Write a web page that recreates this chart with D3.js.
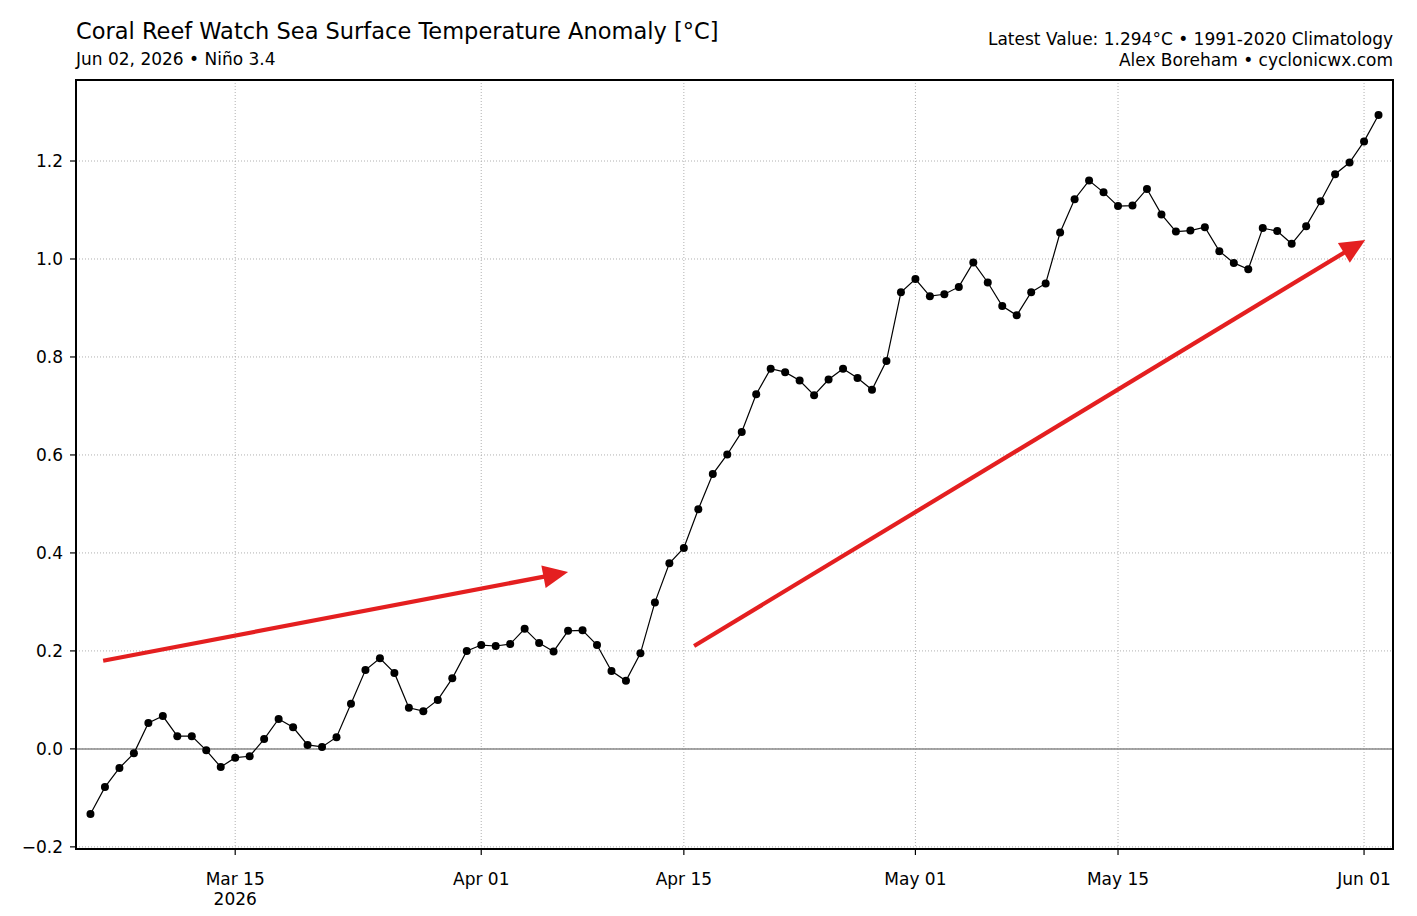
<!DOCTYPE html>
<html>
<head>
<meta charset="utf-8">
<script src="https://cdn.jsdelivr.net/npm/d3@7"></script>
<style>
body { margin: 0; background: #fff; }
svg text { font-family: "DejaVu Sans", sans-serif; fill: #000; }
</style>
</head>
<body>
<svg width="1417" height="916"></svg>
<script>
// daily values, first day below
var firstDay = "2026-03-05";
var anomaly = [
  -0.133, -0.078, -0.039, -0.009, 0.053, 0.067, 0.026, 0.026, -0.003, -0.037,
  -0.018, -0.015, 0.020, 0.061, 0.044, 0.008, 0.004, 0.024, 0.092, 0.161,
  0.185, 0.155, 0.084, 0.077, 0.100, 0.144, 0.200, 0.212, 0.210, 0.214,
  0.245, 0.216, 0.199, 0.241, 0.242, 0.212, 0.159, 0.139, 0.195, 0.299,
  0.379, 0.410, 0.489, 0.561, 0.601, 0.647, 0.724, 0.776, 0.769, 0.752,
  0.722, 0.754, 0.776, 0.757, 0.733, 0.792, 0.932, 0.959, 0.924, 0.928,
  0.943, 0.993, 0.952, 0.904, 0.885, 0.932, 0.950, 1.054, 1.122, 1.160,
  1.136, 1.108, 1.109, 1.143, 1.091, 1.056, 1.058, 1.065, 1.016, 0.992,
  0.979, 1.063, 1.057, 1.031, 1.067, 1.118, 1.173, 1.197, 1.240, 1.294
];

var xTickDates = ["2026-03-15", "2026-04-01", "2026-04-15", "2026-05-01", "2026-05-15", "2026-06-01"];
var xTickLabels = [["Mar 15", "2026"], ["Apr 01"], ["Apr 15"], ["May 01"], ["May 15"], ["Jun 01"]];
var yTicks = [-0.2, 0.0, 0.2, 0.4, 0.6, 0.8, 1.0, 1.2];
var yTickLabels = ["\u22120.2", "0.0", "0.2", "0.4", "0.6", "0.8", "1.0", "1.2"];

// trend arrows drawn on the chart: [start date, start value, tip date, tip value]
var arrowStart = [["2026-03-05T21:00Z", 0.180], ["2026-04-15T17:00Z", 0.210]];
var arrowTip = [["2026-04-07T00:00Z", 0.361], ["2026-06-01T02:00Z", 1.039]];

var svg = d3.select("svg");
var margin = { top: 80, right: 24, bottom: 67, left: 76 },
    width = +svg.attr("width") - margin.left - margin.right,
    height = +svg.attr("height") - margin.top - margin.bottom;

var parse = d3.utcParse("%Y-%m-%d");
var start = parse(firstDay);
var data = anomaly.map(function (v, i) {
    return { date: d3.utcDay.offset(start, i), value: v };
});

var x = d3.scaleUtc()
    .domain([d3.utcDay.offset(start, -1), d3.utcDay.offset(start, anomaly.length)])
    .range([0, width]);

var lo = d3.min(anomaly), hi = d3.max(anomaly), pad = (hi - lo) * 0.05;
var y = d3.scaleLinear().domain([lo - pad, hi + pad]).range([height, 0]);

var g = svg.append("g")
    .attr("transform", "translate(" + margin.left + "," + margin.top + ")");

// grid
g.selectAll(".ygrid").data(yTicks).enter().append("line")
    .attr("x1", 0).attr("x2", width)
    .attr("y1", function (d) { return y(d); }).attr("y2", function (d) { return y(d); })
    .attr("stroke", "#b0b0b0").attr("stroke-width", 1).attr("stroke-dasharray", "1,2");
g.selectAll(".xgrid").data(xTickDates).enter().append("line")
    .attr("x1", function (d) { return x(parse(d)); }).attr("x2", function (d) { return x(parse(d)); })
    .attr("y1", 0).attr("y2", height)
    .attr("stroke", "#b0b0b0").attr("stroke-width", 1).attr("stroke-dasharray", "1,2");

// zero line
g.append("line")
    .attr("x1", 0).attr("x2", width).attr("y1", y(0)).attr("y2", y(0))
    .attr("stroke", "#888").attr("stroke-width", 1.5);

// series
var line = d3.line()
    .x(function (d) { return x(d.date); })
    .y(function (d) { return y(d.value); });
g.append("path").datum(data)
    .attr("fill", "none").attr("stroke", "#000").attr("stroke-width", 1.2)
    .attr("d", line);
g.selectAll(".dot").data(data).enter().append("circle")
    .attr("cx", function (d) { return x(d.date); })
    .attr("cy", function (d) { return y(d.value); })
    .attr("r", 4).attr("fill", "#000");

// arrows
var red = "#e41f20";
arrowStart.forEach(function (s, i) {
    var t = arrowTip[i];
    var x0 = x(new Date(s[0])), y0 = y(s[1]);
    var x1 = x(new Date(t[0])), y1 = y(t[1]);
    var dx = x1 - x0, dy = y1 - y0, len = Math.sqrt(dx * dx + dy * dy);
    var ux = dx / len, uy = dy / len;
    var headLen = 25, headHalf = 11.5;
    var bx = x1 - ux * headLen, by = y1 - uy * headLen;
    g.append("line")
        .attr("x1", x0).attr("y1", y0)
        .attr("x2", bx + ux * 2).attr("y2", by + uy * 2)
        .attr("stroke", red).attr("stroke-width", 4.2);
    g.append("path")
        .attr("d", "M" + x1 + "," + y1 +
            "L" + (bx - uy * headHalf) + "," + (by + ux * headHalf) +
            "L" + (bx + uy * headHalf) + "," + (by - ux * headHalf) + "Z")
        .attr("fill", red);
});

// axes ticks and labels
var yt = g.selectAll(".ytick").data(yTicks).enter().append("g")
    .attr("transform", function (d) { return "translate(0," + y(d) + ")"; });
yt.append("line").attr("x1", -6).attr("x2", 0).attr("stroke", "#000").attr("stroke-width", 1.2);
yt.append("text")
    .attr("x", -13).attr("dy", "0.35em").attr("text-anchor", "end")
    .style("font-size", "17px")
    .text(function (d, i) { return yTickLabels[i]; });

var xt = g.selectAll(".xtick").data(xTickDates).enter().append("g")
    .attr("transform", function (d) { return "translate(" + x(parse(d)) + "," + height + ")"; });
xt.append("line").attr("y1", 0).attr("y2", 6).attr("stroke", "#000").attr("stroke-width", 1.2);
xt.each(function (d, i) {
    var t = d3.select(this).append("text")
        .attr("text-anchor", "middle").style("font-size", "17px");
    xTickLabels[i].forEach(function (s, k) {
        t.append("tspan").attr("x", 0).attr("y", 36 + k * 20).text(s);
    });
});

// frame
g.append("rect")
    .attr("width", width).attr("height", height)
    .attr("fill", "none").attr("stroke", "#000").attr("stroke-width", 2);

// titles
svg.append("text").attr("x", 76).attr("y", 39)
    .style("font-size", "22.5px")
    .text("Coral Reef Watch Sea Surface Temperature Anomaly [\u00b0C]");
svg.append("text").attr("x", 76).attr("y", 65)
    .style("font-size", "17px")
    .text("Jun 02, 2026 \u2022 Ni\u00f1o 3.4");
svg.append("text").attr("x", 1393).attr("y", 45).attr("text-anchor", "end")
    .style("font-size", "17px")
    .text("Latest Value: 1.294\u00b0C \u2022 1991-2020 Climatology");
svg.append("text").attr("x", 1393).attr("y", 66).attr("text-anchor", "end")
    .style("font-size", "17px")
    .text("Alex Boreham \u2022 cyclonicwx.com");
</script>
</body>
</html>
